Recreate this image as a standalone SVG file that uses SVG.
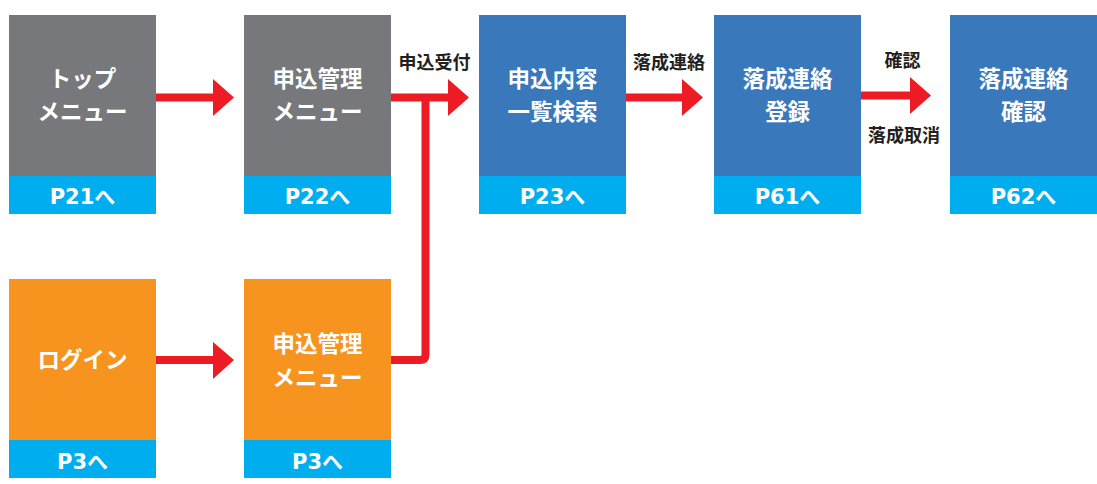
<svg xmlns="http://www.w3.org/2000/svg" width="1097" height="484" viewBox="0 0 1097 484">
<style>
.gray{fill:#77787c}
.blue{fill:#3a78bc}
.orange{fill:#f7941f}
.band{fill:#00aeef}
.t{font-family:"Noto Sans CJK JP","Noto Sans",sans-serif;font-weight:bold;fill:#fff;font-size:22.5px;text-anchor:middle}
.p{font-family:"DejaVu Sans","Noto Sans CJK JP",sans-serif;font-weight:bold;fill:#fff;font-size:21px;text-anchor:middle}
.lbl{font-family:"Noto Sans CJK JP","Noto Sans",sans-serif;font-weight:bold;fill:#231f20;font-size:18px;text-anchor:middle}
.ln{fill:none;stroke:#ed1c24;stroke-width:8}
.hd{fill:#ed1c24}
</style>
<rect width="1097" height="484" fill="#fff"/>
<g id="connectors">
<line class="ln" x1="156" y1="97.5" x2="215" y2="97.5"/>
<polygon class="hd" points="213,79 234,97.5 213,116"/>
<line class="ln" x1="391" y1="97.5" x2="450" y2="97.5"/>
<polygon class="hd" points="448,79 469,97.5 448,116"/>
<path class="ln" d="M391,360 H420 Q425.5,360 425.5,354.5 V97.5"/>
<line class="ln" x1="626" y1="97.5" x2="684" y2="97.5"/>
<polygon class="hd" points="682,79 703,97.5 682,116"/>
<line class="ln" x1="861" y1="95.5" x2="912" y2="95.5"/>
<polygon class="hd" points="910,77 931,95.5 910,114"/>
<line class="ln" x1="156" y1="360" x2="215" y2="360"/>
<polygon class="hd" points="213,342 234,360 213,379"/>
<text class="lbl" x="434.5" y="69">申込受付</text>
<text class="lbl" x="669" y="69">落成連絡</text>
<text class="lbl" x="902.5" y="67">確認</text>
<text class="lbl" x="904" y="142">落成取消</text>
</g>
<g id="top-menu">
<rect class="gray" x="9" y="15" width="147" height="199"/>
<rect class="band" x="9" y="176" width="147" height="38"/>
<text class="t" x="82.5" y="87">トップ</text>
<text class="t" x="82.5" y="120">メニュー</text>
<text class="p" x="82.5" y="204">P21へ</text>
</g>
<g id="apply-menu-1">
<rect class="gray" x="244" y="15" width="147" height="199"/>
<rect class="band" x="244" y="176" width="147" height="38"/>
<text class="t" x="317.5" y="87">申込管理</text>
<text class="t" x="317.5" y="120">メニュー</text>
<text class="p" x="317.5" y="204">P22へ</text>
</g>
<g id="search">
<rect class="blue" x="479" y="15" width="147" height="199"/>
<rect class="band" x="479" y="176" width="147" height="38"/>
<text class="t" x="552.5" y="87">申込内容</text>
<text class="t" x="552.5" y="120">一覧検索</text>
<text class="p" x="552.5" y="204">P23へ</text>
</g>
<g id="register">
<rect class="blue" x="714" y="15" width="147" height="199"/>
<rect class="band" x="714" y="176" width="147" height="38"/>
<text class="t" x="787.5" y="87">落成連絡</text>
<text class="t" x="787.5" y="120">登録</text>
<text class="p" x="787.5" y="204">P61へ</text>
</g>
<g id="confirm">
<rect class="blue" x="950" y="15" width="147" height="199"/>
<rect class="band" x="950" y="176" width="147" height="38"/>
<text class="t" x="1023.5" y="87">落成連絡</text>
<text class="t" x="1023.5" y="120">確認</text>
<text class="p" x="1023.5" y="204">P62へ</text>
</g>
<g id="login">
<rect class="orange" x="9" y="279" width="147" height="199"/>
<rect class="band" x="9" y="440" width="147" height="38"/>
<text class="t" x="82.5" y="368">ログイン</text>
<text class="p" x="82.5" y="469">P3へ</text>
</g>
<g id="apply-menu-2">
<rect class="orange" x="244" y="279" width="147" height="199"/>
<rect class="band" x="244" y="440" width="147" height="38"/>
<text class="t" x="317.5" y="352">申込管理</text>
<text class="t" x="317.5" y="386">メニュー</text>
<text class="p" x="317.5" y="469">P3へ</text>
</g>
</svg>
